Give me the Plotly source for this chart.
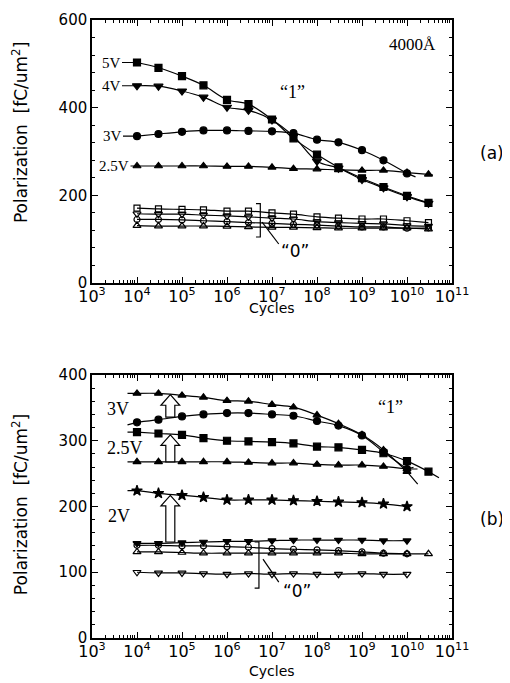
import plotly.graph_objects as go
import math

# ---------------- data ----------------
cycles = [1e4, 3e4, 1e5, 3e5, 1e6, 3e6, 1e7, 3e7, 1e8, 3e8, 1e9, 3e9, 1e10, 3e10]

# panel (a)  "1" state
a_5V  = [503, 491, 472, 451, 418, 408, 373, 330, 293, 264, 239, 219, 199, 183]
a_4V  = [450, 449, 438, 424, 401, 394, 372, 335, 278, 262, 236, 217, 197, 182]
a_3V  = [335, 340, 345, 348, 348, 347, 346, 342, 327, 321, 303, 280, 250]
a_25V = [267, 267, 267, 267, 266, 266, 264, 261, 260, 258, 257, 257, 252, 248]
# panel (a)  "0" state
a_0sq  = [171, 169, 168, 167, 164, 164, 160, 157, 151, 148, 146, 146, 142, 138]
a_0dt  = [158, 157, 157, 155, 153, 151, 148, 146, 140, 138, 136, 135, 131, 130]
a_0ci  = [145, 145, 144, 142, 140, 138, 136, 134, 132, 130, 128, 128, 125, 126]
a_0tr  = [131, 130, 130, 130, 129, 128, 127, 127, 126, 125, 125, 125, 125, 123]

# panel (b)  "1" state
b_3V_hi  = [372, 372, 369, 366, 361, 360, 355, 351, 339, 326, 309, 286, 253]
b_3V_lo  = [328, 332, 337, 340, 342, 342, 340, 338, 330, 323, 308, 283, 257]
b_25V_hi = [313, 311, 309, 304, 300, 299, 298, 296, 291, 290, 286, 281, 269, 253]
b_25V_lo = [268, 268, 268, 268, 268, 267, 266, 266, 264, 263, 263, 261, 257]
b_2V     = [224, 220, 217, 214, 210, 210, 210, 209, 208, 207, 206, 204, 200]
# panel (b)  "0" state
b_0dtf = [144, 144, 145, 146, 147, 147, 148, 149, 149, 149, 149, 148, 148]
b_0ci  = [141, 141, 140, 140, 139, 138, 136, 135, 134, 133, 131, 129, 128]
b_0tr  = [131, 131, 130, 129, 129, 129, 129, 129, 129, 129, 128, 128, 128, 128]
b_0dt  = [100, 99, 99, 98, 97, 98, 97, 98, 97, 97, 98, 97, 97]

# arrows in panel (b): position, from, to
arrow_cycles = [5.5e4, 5.5e4, 5.5e4]
arrow_from = [336, 268, 146]
arrow_to = [370, 309, 217]

x_tick_exp = list(range(3, 12))
y_ticks_a = [0, 200, 400, 600]
y_ticks_b = [0, 100, 200, 300, 400]

# ---------------- figure ----------------
BLACK = "black"
SERIF = "Liberation Serif"
SANS = "DejaVu Sans"

fig = go.Figure()

def add(xs, ys, symbol, size, xa, ya, lw=1.2):
    n = len(ys)
    fig.add_trace(go.Scatter(
        x=xs[:n], y=ys, mode="lines+markers",
        line=dict(color=BLACK, width=lw, shape="spline", smoothing=1.0),
        marker=dict(symbol=symbol, size=size, color=BLACK,
                    line=dict(color=BLACK, width=1.2)),
        xaxis=xa, yaxis=ya, showlegend=False, hoverinfo="skip"))

# panel (a)
add(cycles, a_5V, "square", 7, "x", "y")
add(cycles, a_4V, "triangle-down", 8, "x", "y")
add(cycles, a_3V, "circle", 7, "x", "y")
add(cycles, a_25V, "triangle-up", 7, "x", "y")
add(cycles, a_0sq, "square-open", 6, "x", "y")
add(cycles, a_0dt, "triangle-down-open", 7, "x", "y")
add(cycles, a_0ci, "circle-open", 6, "x", "y")
add(cycles, a_0tr, "triangle-up-open", 7, "x", "y")

# panel (b)
add(cycles, b_3V_hi, "triangle-up", 7, "x2", "y2")
add(cycles, b_3V_lo, "circle", 7, "x2", "y2")
add(cycles, b_25V_hi, "square", 7, "x2", "y2")
add(cycles, b_25V_lo, "triangle-up", 7, "x2", "y2")
add(cycles, b_2V, "star", 8, "x2", "y2")
add(cycles, b_0dtf, "triangle-down", 7, "x2", "y2")
add(cycles, b_0ci, "circle-open", 6, "x2", "y2")
add(cycles, b_0tr, "triangle-up-open", 7, "x2", "y2")
add(cycles, b_0dt, "triangle-down-open", 7, "x2", "y2")

minor_x = [m * 10 ** k for k in range(3, 11) for m in range(2, 10)]

def xaxis(anchor):
    return dict(
        type="log", range=[3, 11], domain=[0, 1], anchor=anchor,
        tickvals=[10 ** k for k in x_tick_exp],
        ticktext=[f"10<sup>{k}</sup>" for k in x_tick_exp],
        ticks="inside", ticklen=6, tickwidth=1.2, tickcolor=BLACK,
        minor=dict(tickvals=minor_x, ticks="inside", ticklen=3,
                   tickwidth=1, tickcolor=BLACK, showgrid=False),
        showline=True, linecolor=BLACK, linewidth=1.5, mirror="ticks",
        showgrid=False, zeroline=False, ticklabelstandoff=-2, automargin=False,
        tickfont=dict(family=SANS, size=16, color=BLACK))

def yaxis(anchor, dom, rng, ticks, minor_dt):
    return dict(
        range=rng, domain=dom, anchor=anchor,
        tickvals=ticks, ticks="inside", ticklen=6, tickwidth=1.2,
        tickcolor=BLACK,
        minor=dict(dtick=minor_dt, ticks="inside", ticklen=3, tickwidth=1,
                   tickcolor=BLACK, showgrid=False),
        showline=True, linecolor=BLACK, linewidth=1.5, mirror="ticks",
        showgrid=False, zeroline=False, automargin=False,
        tickfont=dict(family=SANS, size=15, color=BLACK))

# the page body adds an 8 px margin, so the figure is drawn 8 px smaller
fig.update_layout(
    width=502, height=675,
    margin=dict(l=84, r=58, t=12, b=45, autoexpand=False),
    paper_bgcolor="white", plot_bgcolor="white",
    xaxis=xaxis("y"),
    yaxis=yaxis("x", [0.5744, 1.0], [0, 600], y_ticks_a, 40),
    xaxis2=xaxis("y2"),
    yaxis2=yaxis("x2", [0.0, 0.4256], [0, 400], y_ticks_b, 20),
)

ann = []
# axis titles (paper coordinates)
for yc in (0.817, 0.215):
    ann.append(dict(text="Polarization  [fC/um<sup>2</sup>]", xref="paper", yref="paper",
                    x=-0.2, y=yc, xanchor="center", yanchor="middle",
                    textangle=-90, showarrow=False,
                    font=dict(family=SANS, size=17, color=BLACK)))
for yc in (0.5340, -0.0534):
    ann.append(dict(text="Cycles", xref="paper", yref="paper", x=0.5, y=yc,
                    xanchor="center", yanchor="middle",
                    showarrow=False, font=dict(family=SANS, size=14, color=BLACK)))
ann.append(dict(text="(a)", xref="paper", yref="paper", x=1.111, y=0.785,
                xanchor="center", yanchor="middle",
                showarrow=False, font=dict(family=SANS, size=17, color=BLACK)))
ann.append(dict(text="(b)", xref="paper", yref="paper", x=1.111, y=0.1926,
                xanchor="center", yanchor="middle",
                showarrow=False, font=dict(family=SANS, size=17, color=BLACK)))

# voltage labels panel (a) with leader lines to first point
for txt, ys, axp in (("5V", a_5V, -26), ("4V", a_4V, -26), ("3V", a_3V, -25), ("2.5V", a_25V, -23)):
    ann.append(dict(text=txt, xref="x", yref="y", x=math.log10(cycles[0]), y=ys[0],
                    showarrow=True, arrowhead=0, arrowwidth=1.2, arrowcolor=BLACK,
                    ax=axp, ay=0, standoff=3,
                    font=dict(family=SERIF, size=15, color=BLACK)))
# short fit-line extensions beyond the last point in panel (a)
for ys, axp, ayp in ((a_3V, 10, 4), (a_25V, 6, 1)):
    ann.append(dict(text="", xref="x", yref="y", x=math.log10(cycles[len(ys) - 1]), y=ys[-1],
                    showarrow=True, arrowhead=0, arrowwidth=1.2, arrowcolor=BLACK,
                    ax=axp, ay=ayp, standoff=0))

ann.append(dict(text="4000Å", xref="x", yref="y", x=10.68, y=543, xanchor="right",
                showarrow=False, font=dict(family=SERIF, size=17, color=BLACK)))
ann.append(dict(text="“1”", xref="x", yref="y", x=7.45, y=435, showarrow=False,
                font=dict(family=SERIF, size=18, color=BLACK)))
ann.append(dict(text="“0”", xref="x", yref="y", x=7.52, y=74, showarrow=False,
                font=dict(family=SANS, size=17, color=BLACK)))

# panel (b) fit-line extensions at both ends
for ys in (b_3V_hi, b_3V_lo, b_25V_hi, b_25V_lo, b_2V):
    ann.append(dict(text="", xref="x2", yref="y2", x=math.log10(cycles[0]), y=ys[0],
                    showarrow=True, arrowhead=0, arrowwidth=1.2, arrowcolor=BLACK,
                    ax=-11, ay=(3 if ys is b_3V_lo else 0), standoff=0))
for ys, axp, ayp in ((b_3V_hi, 12, 14), (b_3V_lo, 8, -2), (b_25V_hi, 12, 7), (b_25V_lo, 12, 0), (b_2V, 2, 0)):
    ann.append(dict(text="", xref="x2", yref="y2", x=math.log10(cycles[len(ys) - 1]), y=ys[-1],
                    showarrow=True, arrowhead=0, arrowwidth=1.2, arrowcolor=BLACK,
                    ax=axp, ay=ayp, standoff=0))

# panel (b) labels
for txt, lx, ly in (("3V", 3.57, 349), ("2.5V", 3.73, 289), ("2V", 3.6, 185)):
    ann.append(dict(text=txt, xref="x2", yref="y2", x=lx, y=ly, showarrow=False,
                    font=dict(family=SERIF, size=18, color=BLACK)))
ann.append(dict(text="“1”", xref="x2", yref="y2", x=9.64, y=352, showarrow=False,
                font=dict(family=SERIF, size=18, color=BLACK)))
ann.append(dict(text="“0”", xref="x2", yref="y2", x=7.55, y=72, showarrow=False,
                font=dict(family=SANS, size=17, color=BLACK)))
fig.update_layout(annotations=ann)

# shapes: brackets, leader lines, hollow arrows
def dom(logx):
    return (logx - 3) / 8.0

shapes = []
line_style = dict(color=BLACK, width=1.2)
for xr, yr, bx, y_top, y_bot, d0, d1 in (
        ("x domain", "y", 6.74, 181, 105, (6.78, 139), (7.15, 89)),
        ("x2 domain", "y2", 6.71, 146, 76, (6.80, 120), (7.15, 85))):
    xd = dom(bx)
    hook = 0.012
    shapes.append(dict(type="path", xref=xr, yref=yr,
                       path=f"M {xd-hook},{y_top} L {xd},{y_top} L {xd},{y_bot} L {xd-hook},{y_bot}",
                       line=line_style))
    shapes.append(dict(type="line", xref=xr, yref=yr, x0=dom(d0[0]), y0=d0[1],
                       x1=dom(d1[0]), y1=d1[1], line=line_style))

head_h = 16
sw, hw = 0.0125, 0.026
for cx, y0, y1 in zip(arrow_cycles, arrow_from, arrow_to):
    xc = dom(math.log10(cx))
    p = (f"M {xc-sw},{y0} L {xc-sw},{y1-head_h} L {xc-hw},{y1-head_h} L {xc},{y1} "
         f"L {xc+hw},{y1-head_h} L {xc+sw},{y1-head_h} L {xc+sw},{y0} Z")
    shapes.append(dict(type="path", xref="x2 domain", yref="y2", path=p,
                       fillcolor="white", line=line_style, layer="above"))
fig.update_layout(shapes=shapes)

fig.write_html("out.html")
